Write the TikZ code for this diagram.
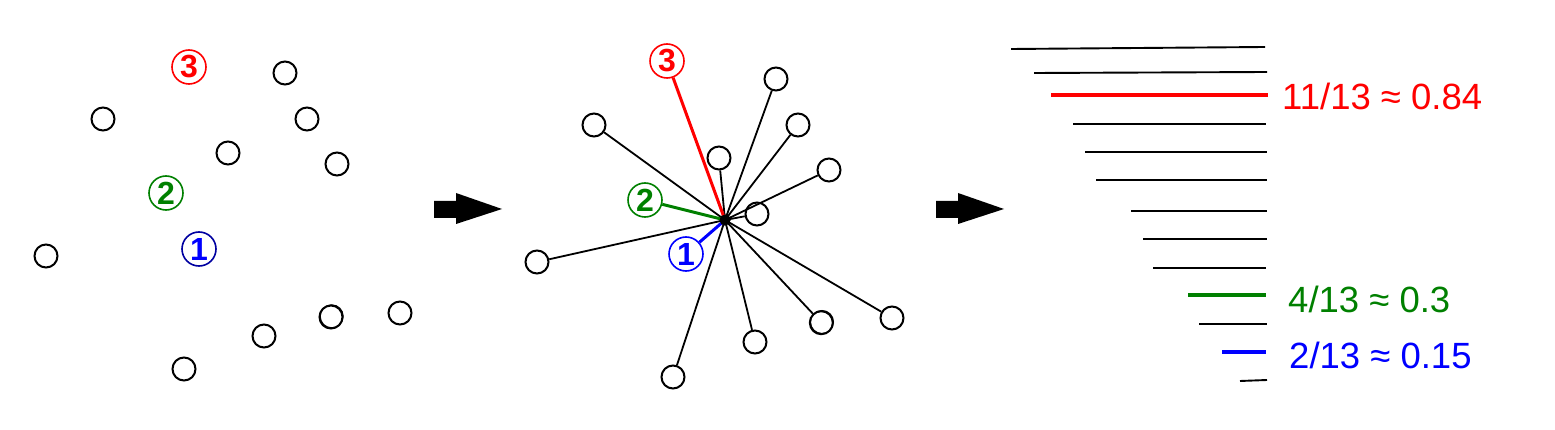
\documentclass[tikz,border=0pt]{standalone}
\usepackage{fontspec}
\setmainfont{Liberation Sans}
\definecolor{cred}{RGB}{255,0,0}
\definecolor{cgreen}{RGB}{0,128,0}
\definecolor{cblue}{RGB}{0,0,255}
\definecolor{cnavy}{RGB}{0,0,160}
\begin{document}
\begin{tikzpicture}[x=1pt,y=-1pt,
  pt/.style={circle, draw, line width=2pt, minimum size=23pt, inner sep=0pt},
  num/.style={circle, draw, line width=1.6pt, minimum size=34pt, inner sep=0pt,
    font=\fontsize{32}{32}\selectfont\bfseries},
  spoke/.style={line width=1.8pt},
  cspoke/.style={line width=3pt},
  bar/.style={line width=1.9pt},
  cbar/.style={line width=3.2pt},
  lab/.style={anchor=west, inner sep=0pt, font=\fontsize{36.5}{36.5}\selectfont},
  blockarrow/.style={fill=black}]
\useasboundingbox (0,0) rectangle (1555,430);

% ---------- left panel ----------
\node[num, cred, text=cred] (l3) at (189,67) {3};
\node[num, cgreen, text=cgreen] (l2) at (166,193) {2};
\node[num, cnavy, text=cblue] (l1) at (199,249) {1};
\node[pt] (a1) at (285,73) {};
\node[pt] (a2) at (103,119) {};
\node[pt] (a3) at (307,119) {};
\node[pt] (a4) at (228,153) {};
\node[pt] (a5) at (337,164) {};
\node[pt] (a6) at (46,256) {};
\node[pt] (a7) at (331,317) {};
\node[pt, line width=1pt] (a7b) at (331.7,316.3) {};
\node[pt] (a8) at (400,313) {};
\node[pt] (a9) at (264,336) {};
\node[pt] (a10) at (184,369) {};

% ---------- arrow 1 ----------
\fill[blockarrow] (434,201) -- (456,201) -- (456,193) -- (502,209) -- (456,224) -- (456,218) -- (434,218) -- cycle;

% ---------- middle panel ----------
\node[circle, fill=black, minimum size=11pt, inner sep=0pt] (h) at (725,220) {};
\node[num, cred, text=cred] (m3) at (667,61) {3};
\node[num, cgreen, text=cgreen] (m2) at (645,200) {2};
\node[num, cblue, text=cblue] (m1) at (686,254) {1};
\node[pt] (b1) at (594,125) {};
\node[pt] (b2) at (776,79) {};
\node[pt] (b3) at (798,125) {};
\node[pt] (b4) at (719,158) {};
\node[pt] (b5) at (829,170) {};
\node[pt] (b6) at (757,214) {};
\node[pt] (b7) at (537,262) {};
\node[pt] (b8) at (673,377) {};
\node[pt] (b9) at (755,342) {};
\node[pt] (b10) at (821.3,322.7) {};
\node[pt, line width=1pt] (b10b) at (822,322) {};
\node[pt] (b11) at (892,318) {};
\foreach \n in {b1,b2,b3,b4,b5,b6,b7,b8,b9,b10,b11}
  \draw[spoke] (h.center) -- (\n);
\draw[cspoke, cred] (h.center) -- (m3);
\draw[cspoke, cgreen] (h.center) -- (m2);
\draw[cspoke, cblue] (h.center) -- (m1);
\node[circle, fill=black, minimum size=11pt, inner sep=0pt] at (h) {};

% ---------- arrow 2 ----------
\fill[blockarrow] (936,201) -- (958,201) -- (958,193) -- (1004,209) -- (958,224) -- (958,218) -- (936,218) -- cycle;

% ---------- right panel ----------
\draw[bar] (1011,49) -- (1265,47);
\draw[bar] (1034,73) -- (1267,72);
\draw[cbar, cred] (1051,95) -- (1268,95);
\node[lab, text=cred] (t1) at (1282,96) {11/13 ≈ 0.84};
\draw[bar] (1073,124) -- (1266,124);
\draw[bar] (1085,152) -- (1267,152);
\draw[bar] (1096,180) -- (1267,180);
\draw[bar] (1131,211) -- (1267,211);
\draw[bar] (1143,239) -- (1267,239);
\draw[bar] (1153,268) -- (1266,268);
\draw[cbar, cgreen] (1188,295) -- (1266,295);
\node[lab, text=cgreen] (t2) at (1288,299) {4/13 ≈ 0.3};
\draw[bar] (1199,324) -- (1267,324);
\draw[cbar, cblue] (1222,352) -- (1266,352);
\node[lab, text=cblue] (t3) at (1289,355) {2/13 ≈ 0.15};
\draw[bar] (1240,381) -- (1267,380);
\end{tikzpicture}
\end{document}
